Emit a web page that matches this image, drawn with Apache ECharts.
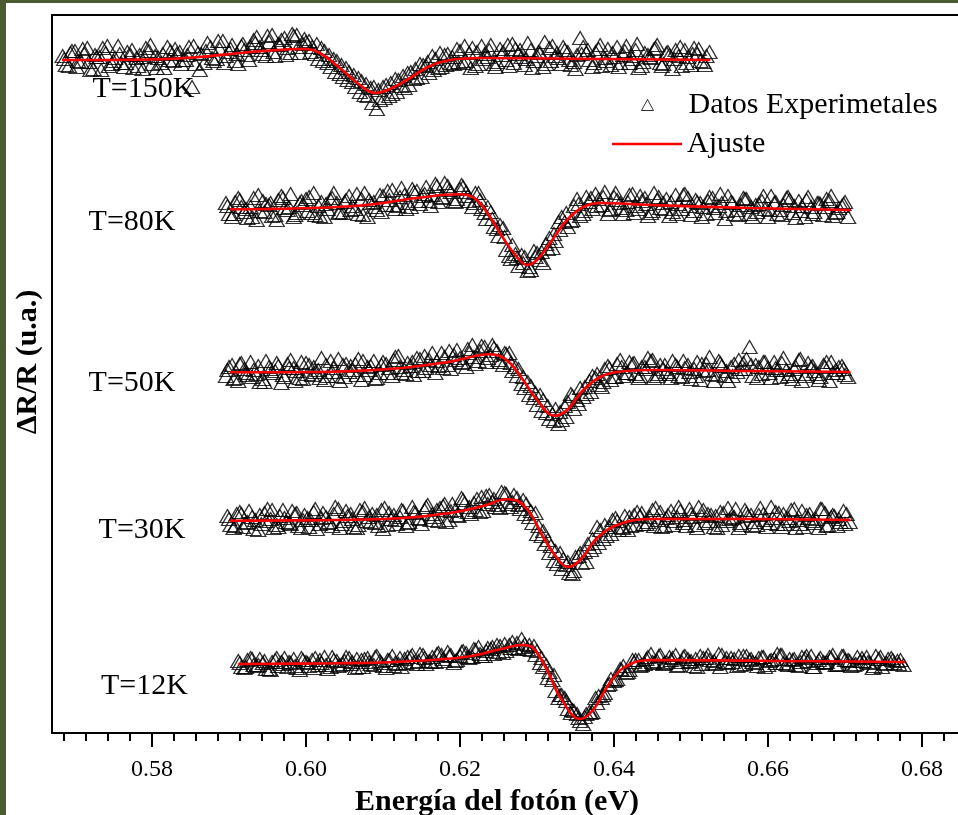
<!DOCTYPE html>
<html><head><meta charset="utf-8">
<script src="https://cdn.jsdelivr.net/npm/echarts@6/dist/echarts.min.js"></script>
<style>
html,body{margin:0;padding:0;background:#4c5b30;width:958px;height:815px;overflow:hidden}
#c{position:absolute;left:6px;top:3px;width:952px;height:812px;background:#fff}
</style></head><body><div id="c"></div>
<script>
// ---- x axis ----
const xMin = 0.567013, xMax = 0.68597;
const majorTicks = [0.58, 0.60, 0.62, 0.64, 0.66, 0.68];
const minorPerMajor = 7;

// ---- experimental data: energy grid (start, step) and ΔR/R values (arbitrary offset units) ----
// "a" arrays on the grid points, "c" a quarter step after, "b" half a step after
const step = 0.0008;
const start150 = 0.5684, start80 = 0.5896, start50 = 0.5896, start30 = 0.5898, start12 = 0.5912;
const exp150a = [677,667,682,671,685,664,676,680,669,687,
666,678,675,664,682,677,670,686,672,681,
673,646,680,670,686,674,692,681,672,687,
678,693,686,677,698,689,695,680,698,689,
692,679,685,670,674,659,665,651,655,638,
645,624,646,637,654,647,660,654,669,667,
677,665,678,670,684,670,680,667,687,676,
669,684,673,689,679,668,683,677,666,685,
677,669,681,671,695,680,666,684,675,668,
686,678,670,683,667,678,684,670,680,664,
677,683,668,679,671,681];
const exp150b = [668,682,672,679,663,676,685,667,675,670,
681,665,678,685,669,675,665,682,679,673,
686,669,679,690,672,684,677,688,669,683,
686,696,679,691,677,693,685,697,680,691,
686,674,682,666,672,656,661,646,652,637,
646,633,648,639,653,645,661,655,668,660,
674,666,679,669,682,672,685,669,679,688,
671,681,667,684,676,690,672,680,669,687,
675,683,668,678,686,673,681,667,684,676,
670,687,674,665,680,675,688,669,678,683,
667,676,685,672,677];
const exp150c = [674,680,666,684,671,678,663,687,672,679,
670,683,667,676,688,665,679,673,684,669,
678,687,663,682,675,692,670,684,679,689,
673,690,683,697,681,688,678,699,686,694,
681,689,672,678,661,668,653,658,641,649,
630,643,635,650,641,657,648,664,656,671,
663,680,668,676,671,687,665,681,674,683,
666,678,688,670,683,674,665,681,691,672,
680,686,673,664,679,683,670,688,672,680,
666,682,677,689,671,676,685,667,681,674,
686,670,679,684,668];
const exp80a = [530,516,535,521,526,513,532,528,518,537,
523,516,530,534,520,527,516,533,530,520,
537,524,534,516,531,538,528,543,527,538,
526,542,537,532,549,536,547,532,544,541,
526,540,520,521,504,505,477,479,478,462,
482,473,489,485,511,511,512,534,519,531,
539,528,519,536,530,523,539,524,535,520,
533,530,517,538,524,535,522,530,519,535,
527,514,531,523,535,519,528,532,516,530,
523,535,520,532,516,526,530,518,532,520,
527,516];
const exp80b = [519,531,526,515,535,522,529,517,533,525,
539,520,528,536,518,531,524,540,521,533,
527,519,540,530,523,537,533,524,545,530,
541,529,546,538,531,550,541,534,546,532,
540,524,526,506,508,483,488,467,476,463,
480,470,495,492,516,506,527,517,536,524,
534,541,524,533,519,538,527,532,517,540,
525,534,521,529,539,518,531,526,536,520,
530,537,519,528,534,516,529,524,537,519,
528,533,515,527,536,521,529,534,517,525,
531];
const exp80c = [527,519,533,524,516,538,521,530,513,535,
526,518,532,522,540,517,529,535,520,531,
523,539,518,533,526,521,542,528,536,524,
544,532,539,527,547,535,543,531,548,537,
530,533,514,514,497,496,474,475,470,466,
476,481,484,499,503,520,513,529,522,535,
527,536,523,540,525,531,520,537,529,522,
536,524,531,519,538,527,533,516,532,525,
539,522,530,518,534,526,521,537,523,531,
518,536,527,522,533,519,530,526,537,521,
529];
const exp50a = [357,368,352,364,371,359,354,366,362,350,
369,365,355,370,358,363,353,372,357,368,
361,369,353,366,372,360,369,357,377,363,
367,375,362,373,360,380,368,378,375,366,
388,372,386,378,382,368,380,366,349,351,
335,338,320,319,309,327,339,333,336,352,
355,346,367,356,373,360,369,355,366,372,
357,364,359,368,356,368,364,353,369,359,
372,357,366,361,370,386,368,359,365,371,
356,363,354,373,357,366,359,368,352,363,
367,356];
const exp50b = [366,355,370,358,363,351,372,360,367,356,
373,362,354,368,361,375,357,365,352,369,
363,374,358,367,355,371,365,376,360,370,
358,374,365,380,367,376,364,383,371,380,
369,387,375,385,371,379,362,364,345,347,
328,333,314,324,313,331,324,345,339,357,
348,364,353,369,357,371,359,366,375,355,
368,361,372,357,365,354,371,362,376,358,
367,352,369,364,374,357,366,371,355,363,
375,359,366,352,370,362,356,371,360,366,
358];
const exp50c = [363,354,369,360,356,367,351,364,370,358,
365,352,371,359,366,355,368,361,374,356,
367,358,372,363,354,368,360,373,366,359,
371,362,377,368,372,365,382,373,370,384,
376,382,371,388,373,380,370,357,356,338,
340,322,327,312,321,316,337,329,346,341,
359,351,365,356,366,360,370,357,364,373,
359,368,355,366,372,361,357,369,363,352,
370,362,357,373,364,368,355,371,360,365,
370,357,364,374,359,367,353,366,371,360,
364];
const exp30a = [217,205,221,210,216,203,220,214,208,223,
210,219,205,215,221,209,216,207,224,212,
219,205,221,216,210,223,208,218,216,207,
226,215,223,213,223,227,213,223,235,221,
230,221,237,231,228,240,226,235,233,216,
220,197,193,172,180,168,159,177,181,183,
206,194,206,215,206,203,218,217,209,223,
213,207,222,216,210,224,208,217,219,206,
221,212,215,205,223,218,208,219,210,221,
206,215,224,209,218,212,205,220,216,207,
222,211];
const exp30b = [208,219,206,222,213,209,224,205,217,211,
222,207,218,213,204,220,211,226,209,217,
206,223,212,219,207,225,214,209,222,211,
220,209,228,216,225,211,229,217,230,219,
234,222,238,226,241,229,238,224,229,210,
207,189,187,169,174,160,176,170,189,186,
203,197,213,203,217,207,221,209,216,225,
206,218,212,222,207,216,226,210,218,205,
220,214,224,208,217,211,225,206,215,220,
209,223,213,206,219,214,224,208,217,211,
219];
const exp30c = [214,207,219,211,204,218,212,223,206,215,
209,220,213,206,224,215,210,219,205,222,
214,208,225,211,218,204,220,213,223,210,
221,214,226,219,212,229,222,218,233,226,
223,236,229,234,225,239,231,228,219,222,
199,202,180,182,164,171,162,180,171,194,
190,208,199,212,205,216,208,220,211,207,
221,215,208,226,213,219,205,223,212,217,
208,225,216,210,220,207,218,213,226,209,
219,212,205,222,215,210,224,207,218,214,
209];
const exp12a = [72,65,75,67,70,64,73,71,66,74,
63,71,73,68,76,66,72,69,75,65,
73,75,68,72,65,77,69,74,76,69,
78,72,71,78,81,70,77,80,76,86,
77,84,88,80,88,85,94,84,87,70,
68,53,35,35,20,19,9,21,35,35,
48,52,64,60,73,73,69,79,72,69,
76,78,71,74,67,77,75,70,79,71,
75,67,77,73,70,76,68,74,78,69,
73,67,75,77,70,71,76,68,77,73,
68,72,76,65,74,69,75,72,68];
const exp12b = [66,73,68,74,64,71,67,75,70,65,
73,67,75,70,64,73,68,76,71,66,
74,69,77,67,73,70,66,76,71,79,
69,76,80,72,78,73,82,75,83,77,
85,79,87,82,91,84,89,83,82,66,
61,42,38,24,22,12,19,21,37,40,
54,54,67,63,73,68,76,70,78,71,
75,68,77,72,66,75,73,69,78,70,
74,68,77,71,75,66,73,79,70,74,
68,76,72,66,75,71,78,69,73,67,
76,72,70,77,66,74,70,73];
const exp12c = [70,66,74,68,72,63,75,69,71,67,
75,70,65,73,68,76,67,72,69,74,
66,71,76,70,73,67,75,70,78,72,
75,71,79,74,77,72,81,76,84,79,
82,86,81,89,85,90,86,88,78,75,
55,58,38,32,23,15,16,20,30,38,
49,53,63,61,71,67,74,71,77,70,
73,67,76,71,74,69,78,72,66,75,
71,77,69,74,67,76,72,70,78,68,
74,71,77,66,73,70,75,68,77,72,
69,75,71,67,76,70,73,69];

// ---- fitted curves (Ajuste) ----
const fit150E = [0.5683,0.5797,0.5862,0.5927,0.5979,0.5999,0.6018,0.6044,0.6070,0.6090,0.6109,0.6135,0.6161,0.6187,0.6226,0.6382,0.6525];
const fit150Y = [673,673.5,676,681,683.7,684,680,665,648,640,644,655,667,673,675,674,673];
const fit80E = [0.5901,0.5992,0.6079,0.6144,0.6200,0.6209,0.6222,0.6239,0.6256,0.6274,0.6287,0.6300,0.6317,0.6339,0.6360,0.6382,0.6447,0.6577,0.6707];
const fit80Y = [523.7,524.7,528,535,538.7,538,533,516,495,476,468,473,490,513,526,530,528,525,523];
const fit50E = [0.5901,0.6035,0.6122,0.6187,0.6239,0.6252,0.6265,0.6282,0.6300,0.6323,0.6339,0.6360,0.6382,0.6404,0.6447,0.6577,0.6707];
const fit50Y = [360.7,361.3,364.7,371.3,378.7,377,370,353,333,317.3,323,343,356,361,363,362,361];
const fit30E = [0.5901,0.6035,0.6122,0.6187,0.6230,0.6261,0.6274,0.6291,0.6308,0.6326,0.6340,0.6356,0.6378,0.6404,0.6447,0.6577,0.6707];
const fit30Y = [212.3,213,214.7,220,227,233.7,232.3,220,196,175,166,173,195,208,214,214,213];
const fit12E = [0.5912,0.6035,0.6122,0.6209,0.6252,0.6281,0.6295,0.6313,0.6330,0.6356,0.6373,0.6391,0.6412,0.6447,0.6616,0.6778];
const fit12Y = [69,69.7,71.3,76.3,83.7,88,85,63,36,14,23,46,65,73,72,71];

// ---- temperature labels ----
const tempLabels = ['T=150K','T=80K','T=50K','T=30K','T=12K'];
const tempLabelE = [0.5722,0.5717,0.5717,0.5730,0.5733];
const tempLabelY = [644,511,350,203,47];

const legendNames = ['Datos Experimetales','Ajuste'];
const FONT = 'Liberation Serif';

// minor tick positions between majors
const minorTicks = [];
const majStep = majorTicks[1] - majorTicks[0];
for (let k = -1; k < majorTicks.length; k++) {
  const base = majorTicks[0] + k * majStep;
  for (let m = 1; m < minorPerMajor; m++) {
    const v = base + m * majStep / minorPerMajor;
    if (v > xMin && v < xMax) minorTicks.push(+v.toFixed(6));
  }
}

function expSeries(start, ys) {
  return {
    type: 'scatter', name: legendNames[0], silent: true, z: 2,
    symbol: 'triangle', symbolSize: [15, 13],
    itemStyle: { color: 'rgba(0,0,0,0)', borderColor: '#000', borderWidth: 1.3 },
    data: ys.map((y, i) => [+(start + i * step).toFixed(5), y])
  };
}
function fitSeries(es, ys) {
  return {
    type: 'line', name: legendNames[1], silent: true, z: 3,
    smooth: 0.4, symbol: 'none',
    lineStyle: { color: '#ff0000', width: 2.6 },
    itemStyle: { color: '#ff0000' },
    data: es.map((e, i) => [e, ys[i]])
  };
}
const half = step / 2, quarter = step / 4;

const chart = echarts.init(document.getElementById('c'), null, { renderer: 'canvas' });
chart.setOption({
  animation: false,
  textStyle: { fontFamily: FONT, color: '#000' },
  grid: { left: 46, top: 12, bottom: 82, right: -10, containLabel: false, outerBoundsMode: 'none' },
  legend: [
    {
      data: [{ name: legendNames[0], icon: 'triangle',
        itemStyle: { color: 'rgba(0,0,0,0)', borderColor: '#000', borderWidth: 1 } }],
      left: 635, top: 87, padding: 0, itemWidth: 12, itemHeight: 11,
      textStyle: { fontFamily: FONT, fontSize: 30, color: '#000', lineHeight: 30, padding: [0, 0, 0, 30] }
    },
    {
      data: [{ name: legendNames[1], icon: 'rect', itemStyle: { color: '#ff0000' } }],
      left: 606, top: 126, padding: 0, itemWidth: 70, itemHeight: 2.5,
      textStyle: { fontFamily: FONT, fontSize: 30, color: '#000', lineHeight: 30 }
    }
  ],
  xAxis: [
    {
      type: 'value', position: 'bottom', min: xMin, max: xMax,
      name: 'Energía del fotón (eV)', nameLocation: 'middle', nameGap: 45,
      nameTextStyle: { fontFamily: FONT, fontSize: 30, fontWeight: 'bold', color: '#000', padding: [0, 26, 0, 0] },
      axisLine: { show: true, onZero: false, lineStyle: { color: '#000', width: 2 } },
      axisTick: { show: true, inside: false, length: 14, customValues: majorTicks, lineStyle: { color: '#000', width: 2 } },
      axisLabel: { show: true, margin: 25, fontSize: 24, fontFamily: FONT, color: '#000',
        customValues: majorTicks, formatter: v => v.toFixed(2) },
      splitLine: { show: false }
    },
    {
      type: 'value', position: 'bottom', min: xMin, max: xMax,
      axisLine: { show: false, onZero: false },
      axisTick: { show: true, inside: false, length: 8, customValues: minorTicks, lineStyle: { color: '#000', width: 2 } },
      axisLabel: { show: false },
      splitLine: { show: false }
    },
    {
      type: 'value', position: 'top', min: xMin, max: xMax,
      axisLine: { show: true, onZero: false, lineStyle: { color: '#000', width: 2 } },
      axisTick: { show: false }, axisLabel: { show: false }, splitLine: { show: false }
    }
  ],
  yAxis: {
    type: 'value', min: 0, max: 718,
    name: 'ΔR/R (u.a.)', nameLocation: 'middle', nameGap: 9,
    nameTextStyle: { fontFamily: FONT, fontSize: 30, fontWeight: 'bold', color: '#000', padding: [0, 0, 0, 24] },
    axisLine: { show: true, onZero: false, lineStyle: { color: '#000', width: 2 } },
    axisTick: { show: false }, axisLabel: { show: false }, splitLine: { show: false }
  },
  series: [
    expSeries(start150, exp150a), expSeries(start150 + quarter, exp150c), expSeries(start150 + half, exp150b),
    expSeries(start80, exp80a), expSeries(start80 + quarter, exp80c), expSeries(start80 + half, exp80b),
    expSeries(start50, exp50a), expSeries(start50 + quarter, exp50c), expSeries(start50 + half, exp50b),
    expSeries(start30, exp30a), expSeries(start30 + quarter, exp30c), expSeries(start30 + half, exp30b),
    expSeries(start12, exp12a), expSeries(start12 + quarter, exp12c), expSeries(start12 + half, exp12b),
    fitSeries(fit150E, fit150Y), fitSeries(fit80E, fit80Y), fitSeries(fit50E, fit50Y),
    fitSeries(fit30E, fit30Y), fitSeries(fit12E, fit12Y),
    {
      type: 'scatter', name: 'labels', silent: true, z: 4,
      symbolSize: 1, itemStyle: { color: 'rgba(0,0,0,0)' },
      label: { show: true, position: 'right', distance: 0, formatter: '{b}', opacity: 1,
        fontFamily: FONT, fontSize: 30, color: '#000', textBorderWidth: 0 },
      data: tempLabels.map((t, i) => ({ name: t, value: [tempLabelE[i], tempLabelY[i]] }))
    }
  ]
});
</script></body></html>
